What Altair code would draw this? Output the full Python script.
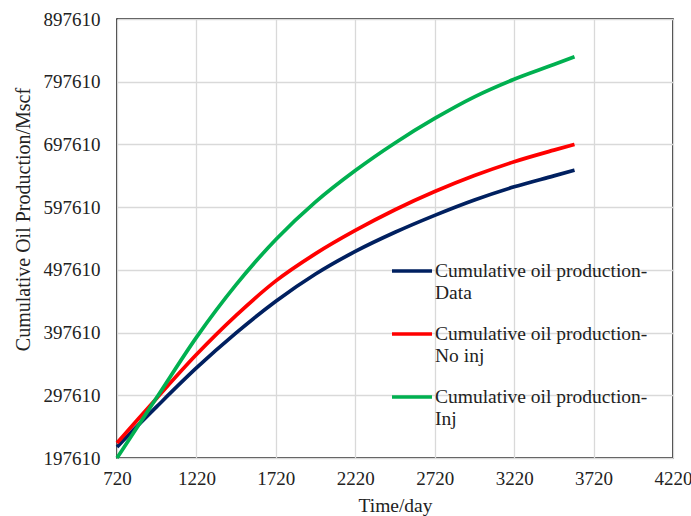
import altair as alt
import pandas as pd

days = [720, 845, 970, 1220, 1470, 1720, 1970, 2220, 2470, 2720, 2970, 3220, 3470, 3600]
data_vals = [215000, 247800, 279500, 341200, 397100, 447600, 491000, 527000, 557500, 584500, 609000, 630000, 647500, 656600]
noinj_vals = [221500, 257500, 293000, 362500, 425000, 480000, 523500, 560500, 593500, 622500, 648000, 670000, 688500, 697600]
inj_vals = [197610, 246000, 294000, 390000, 474000, 546000, 606000, 656000, 700000, 739000, 773500, 801500, 825000, 837500]

series_names = [
    "Cumulative oil production-Data",
    "Cumulative oil production-No inj",
    "Cumulative oil production-Inj",
]
series_colors = ["#002060", "#FF0000", "#00B050"]
x_ticks = [720, 1220, 1720, 2220, 2720, 3220, 3720, 4220]
y_ticks = [197610, 297610, 397610, 497610, 597610, 697610, 797610, 897610]

rows = []
for name, vals in zip(series_names, [data_vals, noinj_vals, inj_vals]):
    for d, v in zip(days, vals):
        rows.append({"day": d, "value": v, "series": name})
df = pd.DataFrame(rows)

FONT = "Liberation Serif"

chart = alt.Chart(df).mark_line(strokeWidth=3.7, interpolate="monotone").encode(
    x=alt.X(
        "day:Q",
        scale=alt.Scale(domain=[720, 4220], nice=False, zero=False),
        axis=alt.Axis(
            values=x_ticks, title="Time/day", ticks=False, tickSize=0, format="d",
            labelPadding=11, labelFontSize=19, labelFont=FONT, labelColor="#222",
            titleFontSize=19.5, titleFont=FONT, titleFontWeight="normal", titleColor="#222",
            titleY=53, titleBaseline="alphabetic", domain=False,
            gridColor="#d9d9d9", gridWidth=1.3, labelFlush=False,
        ),
    ),
    y=alt.Y(
        "value:Q",
        scale=alt.Scale(domain=[197610, 897610], nice=False, zero=False),
        axis=alt.Axis(
            values=y_ticks, title="Cumulative Oil Production/Mscf", ticks=False, tickSize=0,
            labelPadding=17, labelFontSize=19, labelFont=FONT, labelColor="#222",
            format="d",
            titleFontSize=20, titleFont=FONT, titleFontWeight="normal", titleColor="#222",
            titleX=-88, titleY=200, titleAngle=270, titleBaseline="alphabetic",
            domain=False, gridColor="#d9d9d9", gridWidth=1.3, labelFlush=False,
        ),
    ),
    color=alt.Color(
        "series:N",
        scale=alt.Scale(domain=series_names, range=series_colors),
        sort=series_names,
        legend=alt.Legend(
            title=None, orient="none", legendX=273, legendY=230,
            symbolType="stroke", symbolSize=1600, symbolStrokeWidth=3.7,
            labelFont=FONT, labelFontSize=19.5, labelColor="#222", labelLimit=400,
            labelOffset=1, rowPadding=10, padding=0,
            labelExpr="['Cumulative oil production-', replace(datum.label, 'Cumulative oil production-', '')]",
        ),
    ),
).properties(
    width=556, height=439,
    autosize=alt.AutoSizeParams(type="none"),
    padding={"left": 117, "top": 19, "right": 18, "bottom": 58},
).configure_view(
    stroke="#000", strokeWidth=1.5
)

chart.save("out.html", embed_options={"renderer": "svg", "actions": False})
